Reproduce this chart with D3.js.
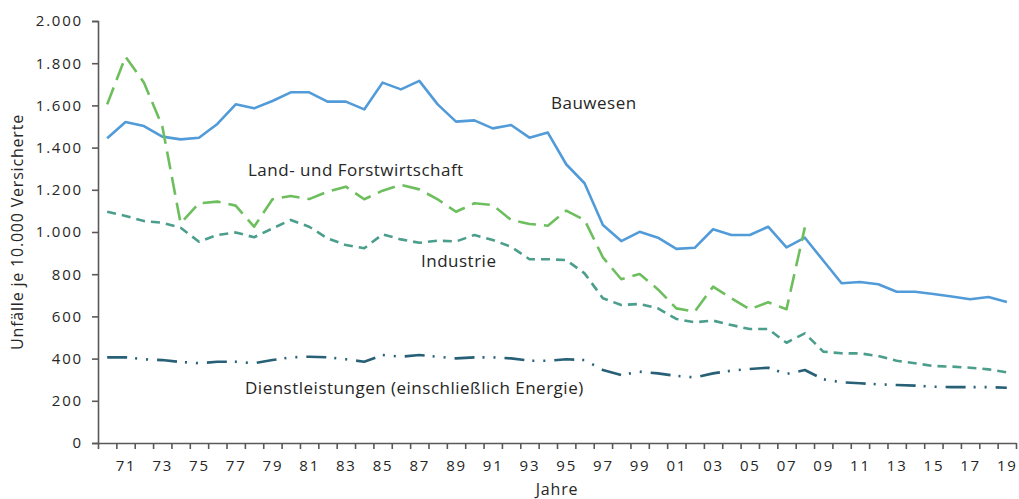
<!DOCTYPE html>
<html>

<head>
  <title>Unfälle je 10.000 Versicherte</title>
  <script src="https://d3js.org/d3.v7.min.js"></script>
  <style>
    body {
      margin: 0;
      background: #ffffff;
      font-family: "Open Sans", sans-serif;
      overflow: hidden;
    }

    svg {
      display: block;
    }

    .tick text {
      font-size: 15px;
      letter-spacing: 1.8px;
      fill: #262626;
    }

    .series-label {
      font-size: 17px;
      letter-spacing: 0.5px;
      fill: #262626;
    }

    .axis-title {
      font-size: 16px;
      letter-spacing: 0.8px;
      fill: #262626;
    }
  </style>
</head>

<body>
  <svg id="chart"></svg>

  <script>
    // Jahre 1970 - 2019
    const years = d3.range(1970, 2020);

    // Unfälle je 10.000 Versicherte
    const bauwesen = [
      1444, 1521, 1502, 1452, 1439, 1447, 1512, 1605, 1586, 1621,
      1662, 1662, 1618, 1618, 1581, 1708, 1676, 1716, 1605, 1523,
      1529, 1491, 1507, 1447, 1471, 1321, 1231, 1033, 957, 1001,
      973, 920, 925, 1013, 986, 986, 1025, 927, 973, 865,
      757, 763, 752, 717, 717, 706, 694, 681, 692, 668
    ];

    // endet 2008
    const landForst = [
      1605, 1831, 1708, 1502, 1041, 1136, 1144, 1125, 1025, 1155,
      1171, 1156, 1191, 1215, 1155, 1196, 1223, 1202, 1155, 1096,
      1136, 1128, 1057, 1038, 1030, 1101, 1057, 880, 776, 801,
      728, 638, 622, 741, 686, 634, 667, 634, 1022
    ];

    const industrie = [
      1096, 1076, 1052, 1044, 1020, 954, 986, 998, 975, 1017,
      1057, 1025, 970, 938, 923, 989, 965, 949, 959, 955,
      986, 962, 930, 871, 871, 867, 804, 686, 654, 659,
      638, 588, 572, 580, 559, 540, 540, 475, 520, 433,
      425, 425, 412, 390, 378, 365, 362, 357, 349, 335
    ];

    const dienst = [
      406, 406, 397, 393, 384, 378, 385, 385, 378, 393,
      406, 409, 406, 397, 385, 417, 409, 417, 409, 401,
      406, 406, 401, 390, 390, 397, 393, 346, 322, 338,
      330, 318, 311, 330, 343, 351, 357, 327, 346, 302,
      288, 283, 278, 275, 272, 267, 265, 265, 265, 262
    ];

    const yTicks = d3.range(0, 2001, 200);
    const xLabelYears = years.filter((y) => y % 2 === 1);

    const seriesList = [
      { name: "Bauwesen", values: bauwesen, color: "#529BD9", dash: null },
      { name: "Land- und Forstwirtschaft", values: landForst, color: "#6DBE5D", dash: "18,8" },
      { name: "Industrie", values: industrie, color: "#4B9E8B", dash: "9,6" },
      { name: "Dienstleistungen (einschließlich Energie)", values: dienst, color: "#276077", dash: "20,8,2,9,2,9" }
    ];

    const labels = [
      { text: "Bauwesen", x: 551, y: 109 },
      { text: "Land- und Forstwirtschaft", x: 248, y: 176 },
      { text: "Industrie", x: 421, y: 267 },
      { text: "Dienstleistungen (einschließlich Energie)", x: 245, y: 394 }
    ];

    const width = 1019;
    const height = 499;
    const plotLeft = 98, plotRight = 1016, plotTop = 21, plotBottom = 443;

    const svg = d3.select("#chart")
      .attr("width", width)
      .attr("height", height);

    // Kategorienachse: Werte in der Mitte, Striche zwischen den Jahren
    const x = d3.scaleLinear()
      .domain([1969.5, 2019.5])
      .range([plotLeft, plotRight]);

    const y = d3.scaleLinear()
      .domain([0, 2000])
      .range([plotBottom, plotTop]);

    const deFormat = d3.formatLocale({
      decimal: ",",
      thousands: ".",
      grouping: [3],
      currency: ["", " €"]
    }).format(",d");

    // y-Achse
    svg.append("g")
      .attr("transform", `translate(${plotLeft},0)`)
      .call(d3.axisLeft(y).tickValues(yTicks).tickFormat(deFormat).tickSize(6).tickPadding(9));

    // x-Achse: Striche
    svg.append("g")
      .attr("transform", `translate(0,${plotBottom})`)
      .call(d3.axisBottom(x)
        .tickValues(d3.range(1969.5, 2020, 1))
        .tickFormat("")
        .tickSize(6)
        .tickSizeOuter(0));

    // x-Achse: Beschriftung nur für ungerade Jahre
    const xLabels = svg.append("g")
      .attr("transform", `translate(0,${plotBottom})`)
      .call(d3.axisBottom(x)
        .tickValues(xLabelYears)
        .tickFormat((d) => String(d % 100).padStart(2, "0"))
        .tickSize(0)
        .tickPadding(17));
    xLabels.select(".domain").remove();

    svg.selectAll(".domain, .tick line")
      .attr("stroke", "#595959")
      .attr("stroke-width", 1.6);
    svg.selectAll(".tick text").attr("font-family", "Open Sans");

    // Linien
    const line = d3.line()
      .x((d, i) => x(years[i]))
      .y((d) => y(d));

    svg.selectAll("path.series")
      .data(seriesList)
      .enter()
      .append("path")
      .attr("class", "series")
      .attr("fill", "none")
      .attr("stroke", (d) => d.color)
      .attr("stroke-width", 2.6)
      .attr("stroke-linejoin", "round")
      .attr("stroke-dasharray", (d) => d.dash)
      .attr("d", (d) => line(d.values));

    // Reihenbeschriftungen
    svg.selectAll("text.series-label")
      .data(labels)
      .enter()
      .append("text")
      .attr("class", "series-label")
      .attr("x", (d) => d.x)
      .attr("y", (d) => d.y)
      .text((d) => d.text);

    // Achsentitel
    svg.append("text")
      .attr("class", "axis-title")
      .attr("transform", `translate(23,${(plotTop + plotBottom) / 2}) rotate(-90)`)
      .attr("text-anchor", "middle")
      .text("Unfälle je 10.000 Versicherte");

    svg.append("text")
      .attr("class", "axis-title")
      .attr("x", (plotLeft + plotRight) / 2)
      .attr("y", 495)
      .attr("text-anchor", "middle")
      .text("Jahre");
  </script>
</body>

</html>
